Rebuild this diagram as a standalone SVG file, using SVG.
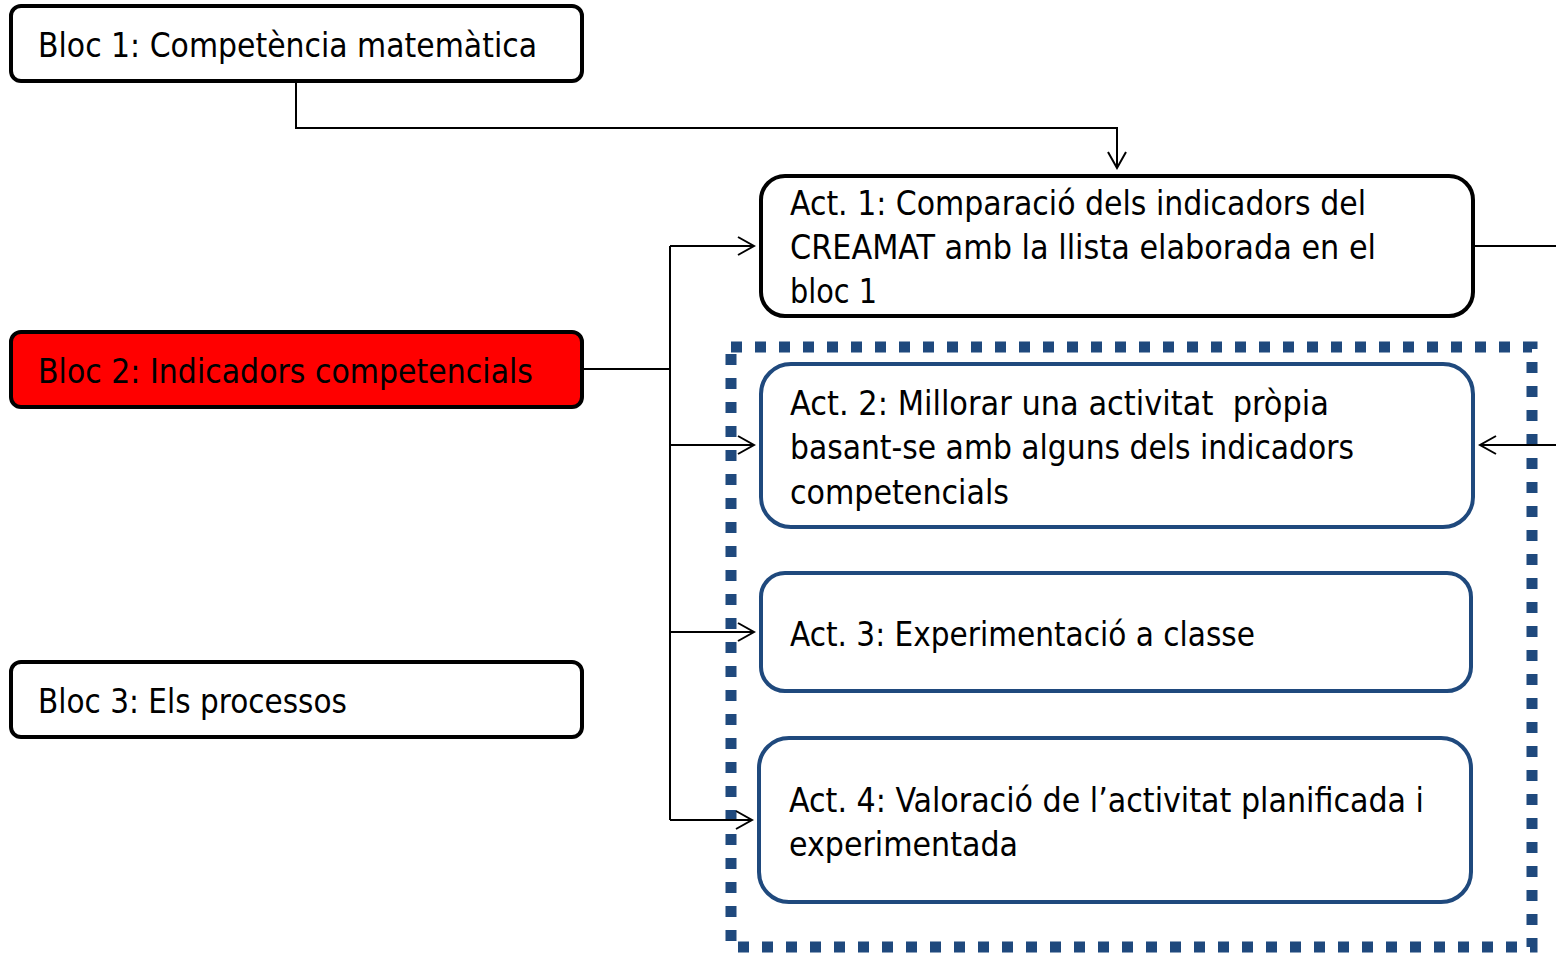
<svg xmlns="http://www.w3.org/2000/svg" width="1556" height="955" viewBox="0 0 1556 955">
<style>
.t{font-family:"Liberation Sans Narrow","DejaVu Sans Condensed","Liberation Sans",sans-serif;font-size:34px;fill:#000}
.blk{fill:#fff;stroke:#000;stroke-width:4}
.blu{fill:#fff;stroke:#1F497D;stroke-width:4}
.c{fill:none;stroke:#000;stroke-width:2}
</style>
<defs>
<marker id="a" markerUnits="userSpaceOnUse" markerWidth="20" markerHeight="22" viewBox="0 0 20 22" refX="18" refY="11" orient="auto">
<path d="M2,2 L18,11 L2,20" fill="none" stroke="#000" stroke-width="2"/>
</marker>
</defs>
<rect width="1556" height="955" fill="#fff"/>
<g id="group-frame">
<rect x="731" y="347" width="801" height="600" fill="none" stroke="#1F497D" stroke-width="11" stroke-dasharray="11 13"/>
</g>
<g id="connectors">
<path class="c" d="M296,81 V128 H1117 V168" marker-end="url(#a)"/>
<path class="c" d="M582,369 H670"/>
<path class="c" d="M670,246 V820"/>
<path class="c" d="M670,246 H754" marker-end="url(#a)"/>
<path class="c" d="M670,445 H754" marker-end="url(#a)"/>
<path class="c" d="M670,632 H754" marker-end="url(#a)"/>
<path class="c" d="M670,820 H752" marker-end="url(#a)"/>
<path class="c" d="M1475,246 H1556"/>
<path class="c" d="M1556,445 H1480" marker-end="url(#a)"/>
</g>
<g id="bloc1">
<rect class="blk" x="11" y="6" width="571" height="75" rx="10"/>
<text class="t" x="38" y="57" textLength="499" lengthAdjust="spacingAndGlyphs">Bloc 1: Competència matemàtica</text>
</g>
<g id="bloc2">
<rect x="11" y="332" width="571" height="75" rx="10" fill="#FF0000" stroke="#000" stroke-width="4"/>
<text class="t" x="38" y="383" textLength="495" lengthAdjust="spacingAndGlyphs">Bloc 2: Indicadors competencials</text>
</g>
<g id="bloc3">
<rect class="blk" x="11" y="662" width="571" height="75" rx="10"/>
<text class="t" x="38" y="713" textLength="309" lengthAdjust="spacingAndGlyphs">Bloc 3: Els processos</text>
</g>
<g id="act1">
<rect class="blk" x="761" y="176" width="712" height="140" rx="24"/>
<text class="t" x="790" y="215" textLength="576" lengthAdjust="spacingAndGlyphs">Act. 1: Comparació dels indicadors del</text>
<text class="t" x="790" y="259" textLength="586" lengthAdjust="spacingAndGlyphs">CREAMAT amb la llista elaborada en el</text>
<text class="t" x="790" y="303" textLength="87" lengthAdjust="spacingAndGlyphs">bloc 1</text>
</g>
<g id="act2">
<rect class="blu" x="761" y="364" width="712" height="163" rx="30"/>
<text class="t" x="790" y="415" textLength="539" lengthAdjust="spacingAndGlyphs" xml:space="preserve">Act. 2: Millorar una activitat  pròpia</text>
<text class="t" x="790" y="459" textLength="564" lengthAdjust="spacingAndGlyphs">basant-se amb alguns dels indicadors</text>
<text class="t" x="790" y="504" textLength="219" lengthAdjust="spacingAndGlyphs">competencials</text>
</g>
<g id="act3">
<rect class="blu" x="761" y="573" width="710" height="118" rx="24"/>
<text class="t" x="790" y="646" textLength="465" lengthAdjust="spacingAndGlyphs">Act. 3: Experimentació a classe</text>
</g>
<g id="act4">
<rect class="blu" x="759" y="738" width="712" height="164" rx="30"/>
<text class="t" x="789" y="812" textLength="635" lengthAdjust="spacingAndGlyphs">Act. 4: Valoració de l’activitat planificada i</text>
<text class="t" x="789" y="856" textLength="229" lengthAdjust="spacingAndGlyphs">experimentada</text>
</g>
</svg>
